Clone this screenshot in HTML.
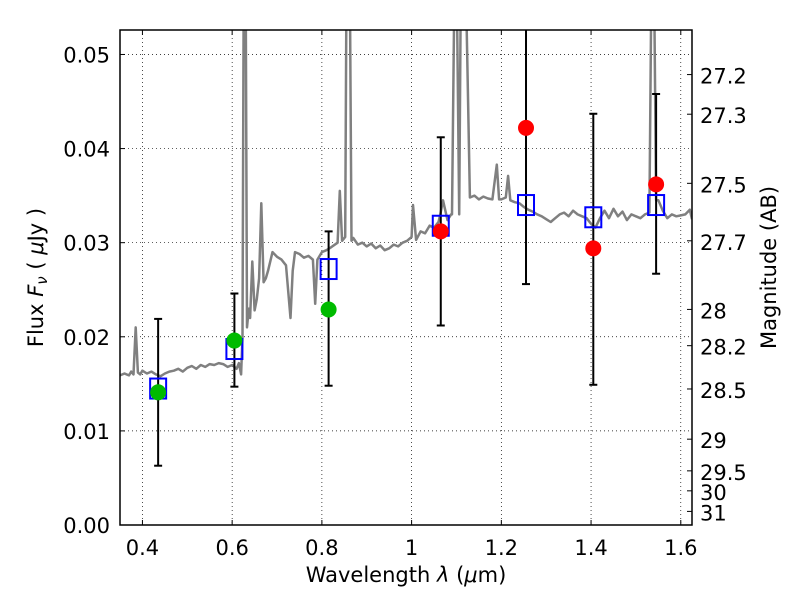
<!DOCTYPE html>
<html><head><meta charset="utf-8"><style>
body{margin:0;background:#fff;}
svg text{font-family:"DejaVu Sans","Liberation Sans",sans-serif;fill:#000;}
</style></head><body>
<svg id="chart" width="800" height="600" xmlns="http://www.w3.org/2000/svg">
<g id="grid"></g>
<g id="spec"></g>
<g id="marks"></g>
<g id="axes"></g>
</svg>
<script>
const specX=[0.35,0.36,0.37,0.375,0.38,0.385,0.39,0.395,0.40,0.41,0.42,0.43,0.44,0.45,0.46,0.47,0.48,0.49,0.50,0.51,0.52,0.53,0.54,0.55,0.56,0.57,0.58,0.59,0.60,0.61,0.615,0.62,0.623,0.626,0.63,0.633,0.637,0.64,0.645,0.65,0.655,0.66,0.665,0.67,0.675,0.68,0.69,0.70,0.71,0.72,0.73,0.735,0.74,0.75,0.76,0.77,0.78,0.785,0.79,0.80,0.81,0.82,0.835,0.84,0.845,0.852,0.855,0.862,0.866,0.87,0.88,0.89,0.90,0.91,0.92,0.93,0.94,0.95,0.96,0.97,0.98,0.99,1.0,1.003,1.01,1.02,1.03,1.04,1.05,1.06,1.064,1.07,1.08,1.088,1.09,1.096,1.10,1.106,1.11,1.12,1.13,1.14,1.15,1.16,1.17,1.18,1.19,1.195,1.20,1.21,1.215,1.22,1.23,1.24,1.25,1.26,1.27,1.28,1.29,1.30,1.31,1.32,1.33,1.34,1.35,1.36,1.37,1.38,1.39,1.40,1.41,1.42,1.43,1.44,1.45,1.46,1.47,1.48,1.49,1.50,1.51,1.52,1.53,1.535,1.54,1.545,1.55,1.56,1.57,1.58,1.59,1.60,1.61,1.62,1.625];
const specY=[0.0159,0.0161,0.0159,0.0163,0.0160,0.0210,0.0162,0.0160,0.0164,0.0161,0.0163,0.0160,0.0158,0.0161,0.0163,0.0164,0.0166,0.0163,0.0167,0.0169,0.0166,0.0170,0.0168,0.0171,0.0170,0.0172,0.0171,0.0168,0.0170,0.0166,0.0172,0.0160,0.0200,0.060,0.060,0.0210,0.0230,0.0220,0.0280,0.0228,0.0240,0.0262,0.0342,0.0258,0.0262,0.0270,0.0290,0.0285,0.0282,0.0276,0.0220,0.0270,0.0290,0.0288,0.0284,0.0286,0.0282,0.0235,0.0282,0.0290,0.0292,0.0295,0.0300,0.0355,0.0302,0.0306,0.060,0.060,0.0302,0.0305,0.0298,0.0300,0.0296,0.0299,0.0294,0.0297,0.0292,0.0294,0.0298,0.0296,0.0300,0.0302,0.0306,0.0340,0.0303,0.0312,0.0310,0.0318,0.0316,0.0322,0.0330,0.0345,0.0324,0.0330,0.0330,0.060,0.060,0.0330,0.060,0.060,0.0348,0.0350,0.0346,0.0349,0.0347,0.0346,0.0383,0.0346,0.0346,0.0348,0.0371,0.0345,0.0343,0.0342,0.0338,0.0335,0.0333,0.0330,0.0328,0.0325,0.0322,0.0326,0.0330,0.0332,0.0328,0.0334,0.0330,0.0328,0.0326,0.0320,0.0316,0.0326,0.0334,0.0326,0.0336,0.0328,0.0333,0.0324,0.0330,0.0328,0.0326,0.0330,0.0332,0.060,0.060,0.0345,0.0345,0.0334,0.0326,0.0330,0.0328,0.0329,0.0330,0.0335,0.0325];
const photX=[0.435,0.605,0.815,1.065,1.255,1.405,1.545];
const modelY=[0.0145,0.0187,0.0272,0.0318,0.0340,0.0327,0.0340];
const obsY=[0.0141,0.0196,0.0229,0.0312,0.0422,0.0294,0.0362];
const obsColor=["#00bb00","#00bb00","#00bb00","red","red","red","red"];
const errLo=[0.0063,0.0147,0.0148,0.0212,0.0256,0.0149,0.0267];
const errHi=[0.0219,0.0246,0.0312,0.0412,0.0600,0.0437,0.0458];
const xTicks=[0.4,0.6,0.8,1.0,1.2,1.4,1.6];
const xTickLabels=["0.4","0.6","0.8","1","1.2","1.4","1.6"];
const yTicks=[0,0.01,0.02,0.03,0.04,0.05];
const yTickLabels=["0.00","0.01","0.02","0.03","0.04","0.05"];
const magTicks=[27.2,27.3,27.5,27.7,28,28.2,28.5,29,29.5,30,31];
const magLabels=["27.2","27.3","27.5","27.7","28","28.2","28.5","29","29.5","30","31"];

const L=120,R=692,T=30,B=525,X0=0.35,X1=1.625,Y0=0,Y1=0.0526;
const sx=v=>L+(v-X0)/(X1-X0)*(R-L);
const sy=v=>B-(v-Y0)/(Y1-Y0)*(B-T);
const NS="http://www.w3.org/2000/svg";
function mk(tag,attrs,parent){const e=document.createElementNS(NS,tag);for(const k in attrs)e.setAttribute(k,attrs[k]);parent.appendChild(e);return e;}
const grid=document.getElementById('grid'),spec=document.getElementById('spec'),marks=document.getElementById('marks'),axes=document.getElementById('axes');

mk('defs',{},document.getElementById('chart')).innerHTML='<clipPath id="cp"><rect x="'+L+'" y="'+T+'" width="'+(R-L)+'" height="'+(B-T)+'"/></clipPath>';
spec.setAttribute('clip-path','url(#cp)');marks.setAttribute('clip-path','url(#cp)');

xTicks.forEach((v,i)=>{
  const g=mk('line',{x1:sx(v),x2:sx(v),y1:T,y2:B,stroke:'#000','stroke-width':0.7,'stroke-dasharray':'1,3'},grid);
  
  mk('line',{x1:sx(v),x2:sx(v),y1:B,y2:B-5,stroke:'#000'},axes);
  mk('line',{x1:sx(v),x2:sx(v),y1:T,y2:T+5,stroke:'#000'},axes);
  const t=mk('text',{x:sx(v),y:B+30,'text-anchor':'middle','font-size':21},axes);t.textContent=xTickLabels[i];
  
});
yTicks.forEach((v,i)=>{
  const g=mk('line',{x1:L,x2:R,y1:sy(v),y2:sy(v),stroke:'#000','stroke-width':0.7,'stroke-dasharray':'1,3'},grid);
  
  mk('line',{x1:L,x2:L+5,y1:sy(v),y2:sy(v),stroke:'#000'},axes);
  const t=mk('text',{x:L-10,y:sy(v)+8,'text-anchor':'end','font-size':21},axes);t.textContent=yTickLabels[i];
  
});
magTicks.forEach((m,i)=>{
  const f=Math.pow(10,(23.9-m)/2.5);const y=sy(f);
  mk('line',{x1:R,x2:R-5,y1:y,y2:y,stroke:'#000'},axes);
  const t=mk('text',{x:R+8,y:y+9,'text-anchor':'start','font-size':21},axes);t.textContent=magLabels[i];
  
});

let d='';specX.forEach((v,i)=>{d+=(i?'L':'M')+sx(v).toFixed(1)+','+sy(specY[i]).toFixed(1);});
const p=mk('path',{d:d,fill:'none',stroke:'#808080','stroke-width':2.5,'stroke-linejoin':'round'},spec);


photX.forEach((v,i)=>{
  const x=sx(v);
  const e=mk('g',{},marks);
  
  mk('line',{x1:x,x2:x,y1:sy(errLo[i]),y2:sy(errHi[i]),stroke:'#000','stroke-width':2},e);
  mk('line',{x1:x-4,x2:x+4,y1:sy(errLo[i]),y2:sy(errLo[i]),stroke:'#000','stroke-width':2},e);
  mk('line',{x1:x-4,x2:x+4,y1:sy(errHi[i]),y2:sy(errHi[i]),stroke:'#000','stroke-width':2},e);
  const s=mk('rect',{x:x-8,y:sy(modelY[i])-10,width:16,height:20,fill:'none',stroke:'#0000ff','stroke-width':2},marks);
  
  const c=mk('circle',{cx:x,cy:sy(obsY[i]),r:8,fill:obsColor[i]},marks);
  
});

const fr=mk('rect',{x:L,y:T,width:R-L,height:B-T,fill:'none',stroke:'#000','stroke-width':1.5},axes);

const xt=mk('text',{x:(L+R)/2,y:582,'text-anchor':'middle','font-size':21},axes);

xt.innerHTML='Wavelength  <tspan font-style="italic">λ</tspan> (<tspan font-style="italic">μ</tspan>m)';
const yt=mk('text',{x:0,y:0,'text-anchor':'middle','font-size':21,transform:'translate(43,'+((T+B)/2)+') rotate(-90)'},axes);

yt.innerHTML='Flux  <tspan font-style="italic">F</tspan><tspan font-style="italic" font-size="15" dy="4">ν</tspan><tspan dy="-4">  ( </tspan><tspan font-style="italic">μ</tspan>Jy )';
const rt=mk('text',{x:0,y:0,'text-anchor':'middle','font-size':21,transform:'translate(776,'+((T+B)/2-10)+') rotate(-90)'},axes);

rt.textContent='Magnitude (AB)';
</script>
</body></html>
